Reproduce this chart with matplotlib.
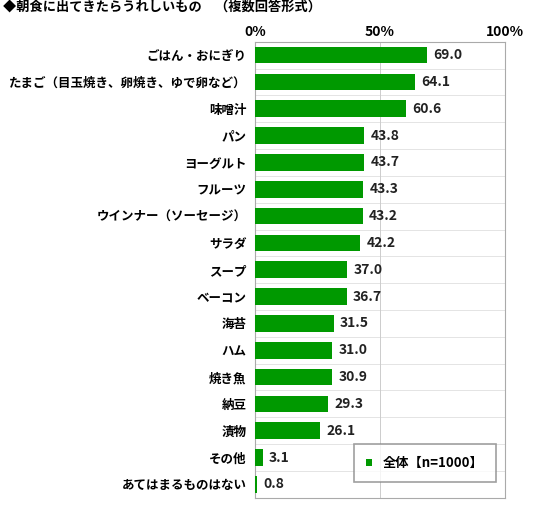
import matplotlib
matplotlib.use("Agg")
import matplotlib.pyplot as plt

plt.rcParams['font.family'] = ['Noto Sans CJK JP', 'DejaVu Sans']

categories = ["ごはん・おにぎり", "たまご（目玉焼き、卵焼き、ゆで卵など）", "味噌汁", "パン", "ヨーグルト",
              "フルーツ", "ウインナー（ソーセージ）", "サラダ", "スープ", "ベーコン", "海苔", "ハム",
              "焼き魚", "納豆", "漬物", "その他", "あてはまるものはない"]
values = [69.0, 64.1, 60.6, 43.8, 43.7, 43.3, 43.2, 42.2, 37.0, 36.7, 31.5, 31.0, 30.9, 29.3, 26.1, 3.1, 0.8]
series_name = "全体【n=1000】"
ticks = [0, 50, 100]
tick_labels = ["0%", "50%", "100%"]

fig = plt.figure(figsize=(5.33, 5.09), dpi=100)
ax = fig.add_axes([0.478, 0.022, 0.469, 0.896])
y = list(range(len(categories)))
ax.barh(y, values, height=0.62, color="#009900", label=series_name, zorder=3)
for i, v in enumerate(values):
    ax.text(v + 2.5, i, f"{v:.1f}", va="center", ha="left", fontsize=10, fontweight="bold", color="#222222")
for i in range(len(categories) - 1):
    ax.axhline(i + 0.5, color="#e4e4e4", lw=0.7, zorder=1)
ax.axvline(50, color="#cccccc", lw=0.7, zorder=1)
ax.set_xlim(0, 100)
ax.set_ylim(len(categories) - 0.5, -0.5)
ax.set_yticks(y)
ax.set_yticklabels(categories, fontsize=9, fontweight="bold")
ax.xaxis.tick_top()
ax.set_xticks(ticks)
ax.set_xticklabels(tick_labels, fontsize=10, fontweight="bold")
ax.tick_params(axis='y', length=0, pad=6)
ax.tick_params(axis='x', length=0, pad=2)
for s in ax.spines.values():
    s.set_color("#aaaaaa")
    s.set_linewidth(0.8)
leg = ax.legend(loc="lower right", bbox_to_anchor=(0.99, 0.02), handlelength=0.5,
                handleheight=0.5, fancybox=False, borderpad=0.9, prop={'weight': 'bold', 'size': 9.5})
leg.get_frame().set_edgecolor("#888888")
leg.get_frame().set_linewidth(1.2)
fig.text(0.005, 0.998, "◆朝食に出てきたらうれしいもの　（複数回答形式）", fontsize=9.5, fontweight="bold", va="top")
fig.savefig("out.png", dpi=100)
